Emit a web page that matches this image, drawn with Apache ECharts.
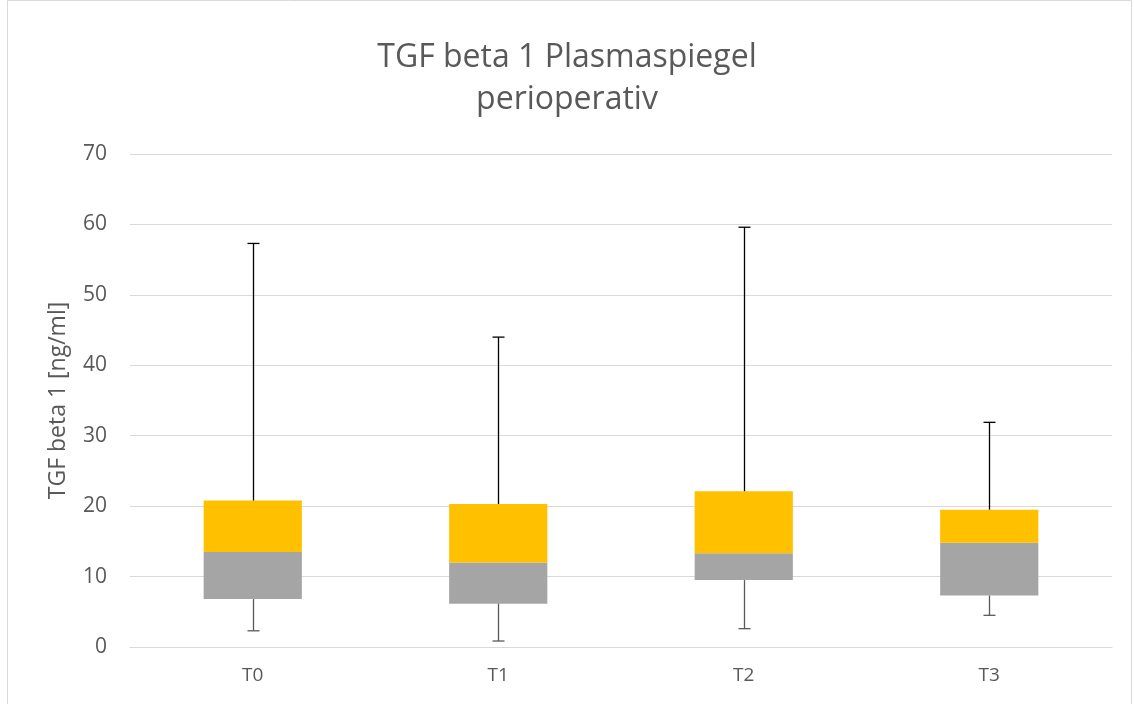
<!DOCTYPE html>
<html>
<head>
<meta charset="utf-8">
<script src="https://cdn.jsdelivr.net/npm/echarts@6/dist/echarts.min.js"></script>
<style>html,body{margin:0;padding:0;background:#fff}#c{width:1134px;height:704px}</style>
</head>
<body>
<div id="c"></div>
<script>
const categories = ['T0', 'T1', 'T2', 'T3'];
const minVals = [2.3, 0.85, 2.6, 4.5];
const q1Vals = [6.8, 6.15, 9.5, 7.3];
const medianVals = [13.5, 12.0, 13.3, 14.8];
const q3Vals = [20.8, 20.3, 22.1, 19.5];
const maxVals = [57.3, 44.0, 59.6, 31.9];
const yTicks = [0, 10, 20, 30, 40, 50, 60, 70];

const lowerPart = medianVals.map((m, i) => +(m - q1Vals[i]).toFixed(2));
const upperPart = q3Vals.map((q, i) => +(q - medianVals[i]).toFixed(2));
const whiskerData = categories.map((c, i) => [i, minVals[i], q1Vals[i], q3Vals[i], maxVals[i]]);

const FONT = 'Open Sans';
const chart = echarts.init(document.getElementById('c'));
chart.setOption({
  animation: false,
  backgroundColor: '#fff',
  title: {
    text: 'TGF beta 1 Plasmaspiegel\nperioperativ',
    left: 'center',
    top: 32,
    textStyle: { fontFamily: FONT, fontSize: 32, fontWeight: 'normal', color: '#595959', lineHeight: 42 }
  },
  graphic: [{
    type: 'rect', shape: { x: 7.5, y: 0.5, width: 1124, height: 705 },
    style: { fill: 'none', stroke: '#d9d9d9', lineWidth: 1 }, silent: true
  }],
  grid: { left: 130, right: 22, top: 154, bottom: 57 },
  xAxis: {
    type: 'category', data: categories,
    axisLine: { lineStyle: { color: '#d9d9d9' } },
    axisTick: { show: false },
    axisLabel: { fontFamily: FONT, fontSize: 19, color: '#595959', margin: 19 }
  },
  yAxis: {
    type: 'value', min: yTicks[0], max: yTicks[yTicks.length - 1], interval: 10,
    name: 'TGF beta 1 [ng/ml]', nameLocation: 'middle', nameGap: 60,
    nameTextStyle: { fontFamily: FONT, fontSize: 23, color: '#595959' },
    axisLine: { show: false }, axisTick: { show: false },
    axisLabel: { fontFamily: FONT, fontSize: 21, color: '#595959', margin: 23 },
    splitLine: { lineStyle: { color: '#d9d9d9', width: 1 } }
  },
  series: [
    { type: 'bar', stack: 'b', data: q1Vals, barWidth: '40%', itemStyle: { color: 'transparent' }, silent: true },
    { type: 'bar', stack: 'b', data: lowerPart, itemStyle: { color: '#a5a5a5' } },
    { type: 'bar', stack: 'b', data: upperPart, itemStyle: { color: '#ffc000' } },
    {
      type: 'custom', data: whiskerData, z: 10,
      renderItem: function (params, api) {
        const x = api.value(0);
        const pMin = api.coord([x, api.value(1)]);
        const pQ1 = api.coord([x, api.value(2)]);
        const pQ3 = api.coord([x, api.value(3)]);
        const pMax = api.coord([x, api.value(4)]);
        const cx = Math.round(pMin[0]) + 0.5;
        const cap = 6;
        const up = { stroke: '#000', lineWidth: 1.3 };
        const lo = { stroke: '#595959', lineWidth: 1.3 };
        return {
          type: 'group',
          children: [
            { type: 'line', shape: { x1: cx, y1: pQ3[1], x2: cx, y2: pMax[1] }, style: up },
            { type: 'line', shape: { x1: cx - cap, y1: pMax[1], x2: cx + cap, y2: pMax[1] }, style: up },
            { type: 'line', shape: { x1: cx, y1: pQ1[1], x2: cx, y2: pMin[1] }, style: lo },
            { type: 'line', shape: { x1: cx - cap, y1: pMin[1], x2: cx + cap, y2: pMin[1] }, style: lo }
          ]
        };
      }
    }
  ]
});
</script>
</body>
</html>
